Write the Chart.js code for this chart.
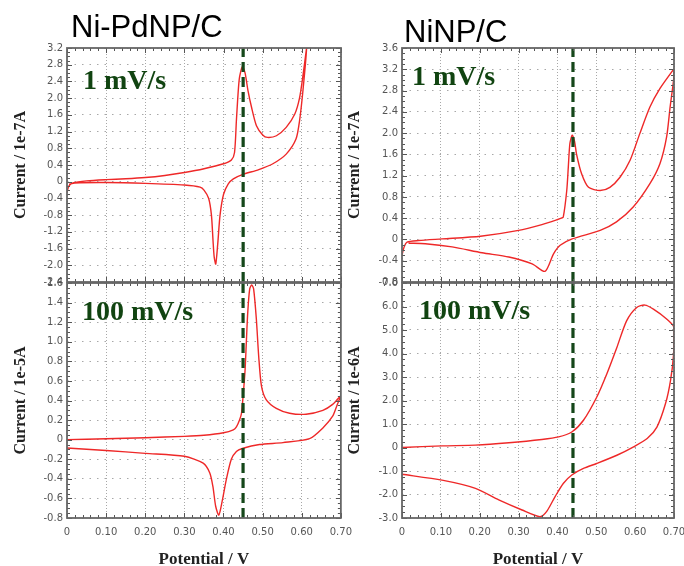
<!DOCTYPE html>
<html><head><meta charset="utf-8">
<script src="https://cdn.jsdelivr.net/npm/chart.js@4.4.1/dist/chart.umd.min.js"></script>
<style>
html,body{margin:0;padding:0;background:#fff;width:684px;height:566px;overflow:hidden;position:relative}
canvas{position:absolute}
</style></head><body>
<canvas id="tl" width="360" height="300" style="left:0;top:0"></canvas>
<canvas id="tr" width="352" height="300" style="left:342px;top:0"></canvas>
<canvas id="bl" width="360" height="305" style="left:0;top:270px"></canvas>
<canvas id="br" width="352" height="305" style="left:342px;top:270px"></canvas>
<script>
// ---- data ----
const potentialTicks = [0, 0.1, 0.2, 0.3, 0.4, 0.5, 0.6, 0.7];
const panelTitles = ['Ni-PdNP/C', 'NiNP/C'];
const rateLabels = ['1 mV/s', '100 mV/s'];
const currentTitles = ['Current / 1e-7A', 'Current / 1e-5A', 'Current / 1e-7A', 'Current / 1e-6A'];
const potentialTitle = 'Potential / V';
const markerPotential = [0.45, 0.44];

// Ni-PdNP/C, 1 mV/s (current / 1e-7 A)
const niPd1Potential = [0,0.005,0.015,0.05,0.1,0.15,0.2,0.25,0.3,0.35,0.4,0.42,0.428,0.433,0.44,0.448,0.455,0.462,0.471,0.484,0.5,0.512,0.535,0.56,0.582,0.594,0.603,0.612,
  0.603,0.594,0.585,0.56,0.526,0.49,0.448,0.425,0.412,0.4,0.391,0.385,0.38,0.376,0.373,0.369,0.362,0.35,0.34,0.3,0.2,0.1,0.02,0.005];
const niPd1Current = [-0.25,-0.1,-0.03,0.02,0.05,0.07,0.1,0.15,0.22,0.31,0.43,0.52,0.7,1.5,2.45,2.75,2.6,2.2,1.8,1.34,1.12,1.06,1.1,1.3,1.62,2.0,2.55,3.2,
  2.2,1.45,1.02,0.66,0.43,0.29,0.17,0.07,-0.05,-0.3,-0.8,-1.5,-1.97,-1.8,-1.4,-0.8,-0.4,-0.2,-0.13,-0.08,-0.04,-0.02,-0.03,-0.06];

// Ni-PdNP/C, 100 mV/s (current / 1e-5 A)
const niPd100Potential = [0,0.1,0.2,0.3,0.35,0.4,0.425,0.433,0.441,0.446,0.45,0.455,0.458,0.462,0.467,0.472,0.477,0.484,0.49,0.497,0.509,0.535,0.569,0.611,0.654,0.679,0.7,
  0.69,0.679,0.654,0.62,0.552,0.492,0.448,0.433,0.42,0.407,0.397,0.388,0.38,0.373,0.365,0.348,0.3,0.2,0.1,0];
const niPd100Current = [0,0.01,0.02,0.034,0.045,0.07,0.1,0.13,0.2,0.27,0.44,0.7,0.96,1.3,1.54,1.58,1.54,1.23,0.85,0.55,0.41,0.32,0.27,0.26,0.3,0.36,0.45,
  0.35,0.24,0.12,0.01,-0.03,-0.05,-0.09,-0.12,-0.2,-0.41,-0.62,-0.77,-0.68,-0.48,-0.34,-0.24,-0.17,-0.14,-0.11,-0.085];

// NiNP/C, 1 mV/s (current / 1e-7 A)
const ni1Potential = [0,0.005,0.013,0.043,0.103,0.202,0.3,0.36,0.399,0.41,0.415,0.424,0.428,0.432,0.438,0.444,0.449,0.462,0.48,0.51,0.535,0.561,0.587,0.612,0.638,0.664,0.694,0.7,
  0.699,0.69,0.681,0.664,0.638,0.595,0.552,0.51,0.438,0.407,0.39,0.368,0.335,0.275,0.206,0.129,0.06,0.017];
const ni1Current = [-0.3,-0.15,-0.05,-0.02,0.01,0.06,0.17,0.28,0.37,0.4,0.42,0.92,1.36,1.8,1.96,1.85,1.61,1.24,0.98,0.92,0.98,1.17,1.49,1.99,2.49,2.84,3.15,3.2,
  3.0,2.49,1.93,1.43,1.05,0.61,0.33,0.17,0.01,-0.11,-0.27,-0.6,-0.46,-0.33,-0.25,-0.14,-0.08,-0.07];

// NiNP/C, 100 mV/s (current / 1e-6 A)
const ni100Potential = [0,0.103,0.189,0.275,0.36,0.403,0.437,0.467,0.501,0.527,0.553,0.578,0.604,0.625,0.647,0.681,0.7,
  0.699,0.691,0.678,0.656,0.631,0.596,0.553,0.501,0.467,0.437,0.415,0.394,0.372,0.355,0.309,0.249,0.189,0.103,0];
const ni100Current = [0,0.07,0.1,0.2,0.34,0.45,0.66,1.16,2.14,3.13,4.26,5.39,5.96,6.06,5.89,5.47,5.11,
  3.98,2.85,1.86,0.87,0.38,0.03,-0.33,-0.68,-0.89,-1.17,-1.53,-2.09,-2.73,-2.94,-2.66,-2.23,-1.74,-1.39,-1.14];

// ---- drawing ----
Chart.defaults.font.family = '"DejaVu Sans", Verdana, sans-serif';
Chart.defaults.font.size = 10;
Chart.defaults.color = '#555';

const decor = {
  id: 'decor',
  afterDraw(chart, args, o) {
    const {ctx, chartArea: a, scales: {x, y}} = chart;
    ctx.save();
    ctx.strokeStyle = '#555'; ctx.lineWidth = 1;
    ctx.beginPath();
    for (let i = 0; i <= 35; i++) {
      const px = Math.round(x.getPixelForValue(i * 0.02)) + 0.5;
      const L = i % 5 === 0 ? 5 : 3;
      ctx.moveTo(px, a.top); ctx.lineTo(px, a.top + L);
      ctx.moveTo(px, a.bottom); ctx.lineTo(px, a.bottom - L);
    }
    const n = Math.round((o.yMax - o.yMin) / o.yStep * 4);
    for (let j = 0; j <= n; j++) {
      const v = o.yMin + j * o.yStep / 4;
      const py = Math.round(y.getPixelForValue(v)) + 0.5;
      const L = j % 4 === 0 ? 5 : 3;
      ctx.moveTo(a.left, py); ctx.lineTo(a.left + L, py);
      ctx.moveTo(a.right, py); ctx.lineTo(a.right - L, py);
    }
    ctx.stroke();
    ctx.lineWidth = 1.8; ctx.strokeStyle = '#666';
    ctx.strokeRect(a.left, a.top, a.right - a.left, a.bottom - a.top);
    ctx.fillStyle = '#114411';
    ctx.font = 'bold 28px "Liberation Serif", "Times New Roman", serif';
    ctx.textBaseline = 'alphabetic'; ctx.textAlign = 'left';
    ctx.fillText(o.rate, a.left + o.rateDx, a.top + o.rateDy);
    if (o.heading) {
      ctx.fillStyle = '#000';
      ctx.font = '31px "Liberation Sans", Arial, sans-serif';
      ctx.fillText(o.heading, o.headX, o.headY);
    }
    ctx.restore();
  }
};

const fmtY = v => Math.abs(v) < 1e-9 ? '0' : v.toFixed(1);
const fmtX = v => Math.abs(v) < 1e-9 ? '0' : v.toFixed(2);

function panel(id, p) {
  const pts = p.xs.map((x, i) => ({x: x, y: p.ys[i]}));
  new Chart(document.getElementById(id), {
    type: 'scatter',
    data: {datasets: [
      {data: [{x: p.marker, y: p.yMin}, {x: p.marker, y: p.yMax}], showLine: true, borderColor: '#15471a', borderWidth: 3.2, borderDash: [10, 5], pointRadius: 0, order: 0},
      {data: pts, showLine: true, borderColor: 'rgb(238,40,40)', borderWidth: 1.4, pointRadius: 0, tension: 0.25, order: 1}
    ]},
    options: {
      responsive: false, animation: false, devicePixelRatio: 1,
      layout: {padding: p.padding},
      plugins: {legend: {display: false}, tooltip: {enabled: false},
        decor: {yMin: p.yMin, yMax: p.yMax, yStep: p.yStep, rate: p.rate, rateDx: p.rateDx, rateDy: p.rateDy, heading: p.heading, headX: p.headX, headY: p.headY}},
      scales: {
        x: {type: 'linear', min: 0, max: 0.7,
          afterBuildTicks: s => { s.ticks = potentialTicks.map(v => ({value: v})); },
          ticks: {display: p.showX, padding: 8, callback: fmtX, autoSkip: false, maxRotation: 0},
          grid: {color: '#a8a8a8', lineWidth: 1, drawTicks: false},
          border: {display: false, dash: [1, 2]},
          title: {display: p.showX, text: potentialTitle, color: '#222', padding: {top: 0, bottom: 4.8},
            font: {family: '"Liberation Serif", "Times New Roman", serif', size: 17, weight: 'bold'}},
          afterFit: s => { s.height = p.xH; }
        },
        y: {type: 'linear', min: p.yMin, max: p.yMax,
          ticks: {stepSize: p.yStep, padding: 4, callback: fmtY, autoSkip: false},
          grid: {color: '#a8a8a8', lineWidth: 1, drawTicks: false},
          border: {display: false, dash: [1.5, 6]},
          title: {display: true, text: p.yTitle, color: '#222', padding: {top: p.yTitlePad, bottom: 0},
            font: {family: '"Liberation Serif", "Times New Roman", serif', size: 16, weight: 'bold'}},
          afterFit: s => { s.width = p.yW; }
        }
      }
    },
    plugins: [decor]
  });
}

panel('tl', {xs: niPd1Potential, ys: niPd1Current, yMin: -2.4, yMax: 3.2, yStep: 0.4, marker: markerPotential[0],
  yTitle: currentTitles[0], showX: false, xH: 0, yW: 67, yTitlePad: 11, padding: {left: 0, top: 48, right: 19, bottom: 18},
  rate: rateLabels[0], rateDx: 16, rateDy: 41, heading: panelTitles[0], headX: 71, headY: 37});
panel('bl', {xs: niPd100Potential, ys: niPd100Current, yMin: -0.8, yMax: 1.6, yStep: 0.2, marker: markerPotential[0],
  yTitle: currentTitles[1], showX: true, xH: 57, yW: 67, yTitlePad: 11, padding: {left: 0, top: 13, right: 19, bottom: 0},
  rate: rateLabels[1], rateDx: 15, rateDy: 37});
panel('tr', {xs: ni1Potential, ys: ni1Current, yMin: -0.8, yMax: 3.6, yStep: 0.4, marker: markerPotential[1],
  yTitle: currentTitles[2], showX: false, xH: 0, yW: 60, yTitlePad: 3.4, padding: {left: 0, top: 48, right: 20, bottom: 18},
  rate: rateLabels[0], rateDx: 10, rateDy: 37, heading: panelTitles[1], headX: 62, headY: 42});
panel('br', {xs: ni100Potential, ys: ni100Current, yMin: -3, yMax: 7, yStep: 1, marker: markerPotential[1],
  yTitle: currentTitles[3], showX: true, xH: 57, yW: 60, yTitlePad: 3.4, padding: {left: 0, top: 13, right: 20, bottom: 0},
  rate: rateLabels[1], rateDx: 17, rateDy: 36});
</script>
</body></html>
